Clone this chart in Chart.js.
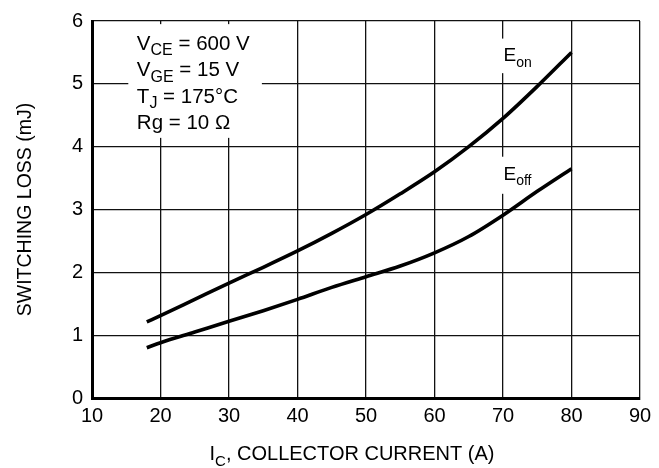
<!DOCTYPE html>
<html>
  <head>
    <meta charset="utf-8">
    <title>Switching loss vs collector current</title>
    <script src="https://cdn.jsdelivr.net/npm/chart.js@4.4.1/dist/chart.umd.min.js"></script>
    <style>
      html, body { margin: 0; padding: 0; background: #fff; }
      #wrap { width: 659px; height: 468px; }
    </style>
  </head>
  <body>
    <div id="wrap"><canvas id="myCanvas"></canvas></div>
    <script>
var FONT = '"Liberation Sans", Arial, Helvetica, sans-serif';

// collector current (A)
var currentA = [18, 20, 25, 30, 35, 40, 45, 50, 55, 60, 65, 70, 75, 80];
// switching losses (mJ)
var eOn  = [1.21, 1.31, 1.57, 1.83, 2.08, 2.34, 2.62, 2.92, 3.25, 3.60, 4.00, 4.45, 4.96, 5.50];
var eOff = [0.80, 0.88, 1.05, 1.22, 1.39, 1.57, 1.76, 1.93, 2.10, 2.31, 2.57, 2.91, 3.29, 3.65];

var xTicks = [10, 20, 30, 40, 50, 60, 70, 80, 90];
var yTicks = [0, 1, 2, 3, 4, 5, 6];

// test conditions text, pieces with subscripts
var conditions = [
    [['V'], ['CE', 1], [' = 600 V']],
    [['V'], ['GE', 1], [' = 15 V']],
    [['T'], ['J', 1], [' = 175\u00B0C']],
    [['Rg = 10 \u03A9']]
];

function points(xs, ys) {
    return xs.map(function (x, i) { return {x: x, y: ys[i]}; });
}

// draws text runs, subscript runs smaller and lower
function drawRuns(ctx, runs, x, y, size) {
    var cx = x;
    runs.forEach(function (r) {
        var sub = r[1] === 1;
        ctx.font = (sub ? Math.round(size * 0.76) : size) + 'px ' + FONT;
        ctx.fillText(r[0], cx, sub ? y + size * 0.28 : y);
        cx += ctx.measureText(r[0]).width;
    });
    return cx - x;
}

function runsWidth(ctx, runs, size) {
    var w = 0;
    runs.forEach(function (r) {
        ctx.font = (r[1] === 1 ? Math.round(size * 0.76) : size) + 'px ' + FONT;
        w += ctx.measureText(r[0]).width;
    });
    return w;
}

var labelsPlugin = {
    id: 'labels',
    afterDraw: function (chart) {
        var ctx = chart.ctx;
        var xs = chart.scales.x, ys = chart.scales.y;
        var area = chart.chartArea;
        ctx.save();
        ctx.textBaseline = 'alphabetic';
        ctx.textAlign = 'left';

        // conditions box (white behind text so the grid breaks)
        ctx.fillStyle = '#fff';
        var bx0 = xs.getPixelForValue(15.3), bx1 = xs.getPixelForValue(34.8);
        var by0 = ys.getPixelForValue(5.95), by1 = ys.getPixelForValue(4.14);
        ctx.fillRect(bx0, by0, bx1 - bx0, by1 - by0);
        ctx.fillStyle = '#000';
        var tx = xs.getPixelForValue(16.55);
        var ty = ys.getPixelForValue(5.545);
        conditions.forEach(function (line, i) {
            drawRuns(ctx, line, tx, ty + i * 26.5, 20.5);
        });

        // curve labels sitting on the 70 A gridline
        var lx = xs.getPixelForValue(70);
        ctx.fillStyle = '#fff';
        ctx.fillRect(lx - 1, ys.getPixelForValue(5.72), 3, ys.getPixelForValue(5.17) - ys.getPixelForValue(5.72));
        ctx.fillRect(lx - 1, ys.getPixelForValue(3.84), 3, ys.getPixelForValue(3.25) - ys.getPixelForValue(3.84));
        ctx.fillStyle = '#000';
        drawRuns(ctx, [['E'], ['on', 1]], lx + 0.5, ys.getPixelForValue(5.36), 19);
        drawRuns(ctx, [['E'], ['off', 1]], lx + 0.5, ys.getPixelForValue(3.47), 19);

        // x axis title with subscript
        var parts = [['I'], ['C', 1], [', COLLECTOR CURRENT (A)']];
        var w = runsWidth(ctx, parts, 20);
        drawRuns(ctx, parts, 352 - w / 2, 460, 20);

        // y axis title
        ctx.translate(31, (area.top + area.bottom) / 2);
        ctx.rotate(-Math.PI / 2);
        ctx.textAlign = 'center';
        ctx.font = '19.5px ' + FONT;
        ctx.fillText('SWITCHING LOSS (mJ)', 0, 0);
        ctx.restore();
    }
};

var ctx = document.getElementById('myCanvas').getContext('2d');
var myChart = new Chart(ctx, {
    type: 'line',
    data: {
        datasets: [{
            label: 'Eon',
            data: points(currentA, eOn),
            borderColor: '#000',
            borderWidth: 3.6,
            pointRadius: 0,
            cubicInterpolationMode: 'monotone',
            fill: false
        }, {
            label: 'Eoff',
            data: points(currentA, eOff),
            borderColor: '#000',
            borderWidth: 3.6,
            pointRadius: 0,
            cubicInterpolationMode: 'monotone',
            fill: false
        }]
    },
    options: {
        responsive: true,
        maintainAspectRatio: false,
        animation: false,
        events: [],
        layout: { padding: { top: 14, right: 19, left: 0, bottom: 0 } },
        plugins: {
            legend: { display: false },
            tooltip: { enabled: false }
        },
        scales: {
            x: {
                type: 'linear',
                min: 10,
                max: 90,
                afterBuildTicks: function (scale) {
                    scale.ticks = xTicks.map(function (v) { return {value: v}; });
                },
                afterFit: function (scale) { scale.height = 70; },
                ticks: {
                    color: '#000',
                    padding: 6,
                    maxRotation: 0,
                    font: { family: FONT, size: 20 }
                },
                grid: { color: '#111', lineWidth: 1.3, drawTicks: false },
                border: { color: '#000', width: 3 }
            },
            y: {
                min: 0,
                max: 6,
                afterBuildTicks: function (scale) {
                    scale.ticks = yTicks.map(function (v) { return {value: v}; });
                },
                afterFit: function (scale) { scale.width = 92; },
                ticks: {
                    color: '#000',
                    padding: 9,
                    font: { family: FONT, size: 20 }
                },
                grid: { color: '#111', lineWidth: 1.3, drawTicks: false },
                border: { color: '#000', width: 3 }
            }
        }
    },
    plugins: [labelsPlugin]
});
    </script>
  </body>
</html>
